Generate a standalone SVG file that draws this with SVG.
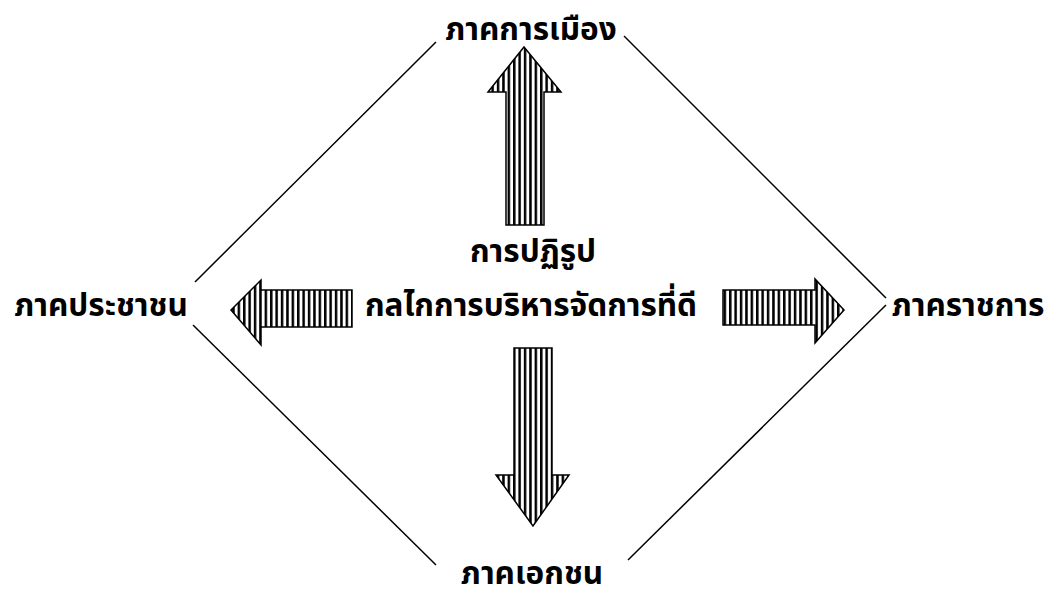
<svg xmlns="http://www.w3.org/2000/svg" width="1052" height="599" viewBox="0 0 1052 599">
<style>
.t{font-family:"Noto Sans Thai","Noto Sans","DejaVu Sans",sans-serif;font-weight:bold;font-size:31.5px;fill:#000;text-anchor:middle}
.ln{stroke:#000;stroke-width:1.5;fill:none}
.ar{fill:url(#hatch);stroke:#000;stroke-width:1.5;stroke-linejoin:miter}
</style>
<defs>
<pattern id="hatch" patternUnits="userSpaceOnUse" width="5.4" height="10">
<rect width="5.4" height="10" fill="#fff"/>
<rect width="2.5" height="10" fill="#000"/>
</pattern>
</defs>
<g id="connectors">
<line class="ln" x1="195" y1="282" x2="436" y2="42"/>
<line class="ln" x1="624" y1="36" x2="886" y2="298"/>
<line class="ln" x1="886" y1="305" x2="628" y2="560"/>
<line class="ln" x1="193" y1="325" x2="436" y2="565"/>
</g>
<g id="arrow-up"><polygon class="ar" points="524,47 561,92 544,92 544,225 506,225 506,92 488,92"/></g>
<g id="arrow-down"><polygon class="ar" points="514,348 552,348 552,475 569,475 533,526 496,475 514,475"/></g>
<g id="arrow-left"><polygon class="ar" points="231,310 261,280 261,290 352,290 352,327 261,327 261,345"/></g>
<g id="arrow-right"><polygon class="ar" points="723,290 815,290 815,279 844,310 815,343 815,325 723,325"/></g>
<g id="node-politics"><text class="t" x="531" y="40">ภาคการเมือง</text></g>
<g id="node-people"><text class="t" x="101" y="316">ภาคประชาชน</text></g>
<g id="node-government"><text class="t" x="968" y="316">ภาคราชการ</text></g>
<g id="node-private"><text class="t" x="532" y="584">ภาคเอกชน</text></g>
<g id="node-center">
<text class="t" x="533" y="262">การปฏิรูป</text>
<text class="t" x="531" y="316">กลไกการบริหารจัดการที่ดี</text>
</g>
</svg>
